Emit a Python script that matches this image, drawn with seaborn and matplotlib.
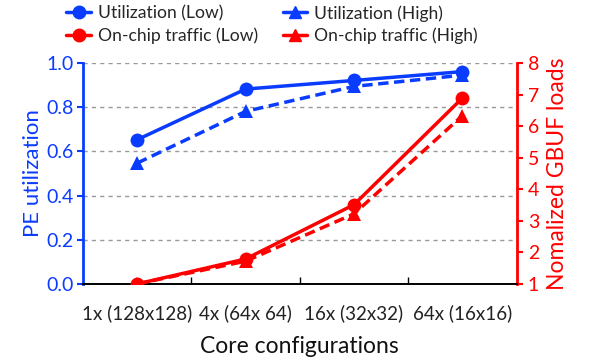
import matplotlib
matplotlib.use("Agg")
import matplotlib.pyplot as plt
import seaborn as sns
import pandas as pd
from matplotlib.lines import Line2D

configs = ["1x (128x128)", "4x (64x 64)", "16x (32x32)", "64x (16x16)"]
util_low = [0.653, 0.882, 0.921, 0.961]
util_high = [0.547, 0.781, 0.894, 0.945]
traffic_low = [1.0, 1.79, 3.51, 6.89]
traffic_high = [1.0, 1.72, 3.22, 6.33]

BLUE = "#0A3CFF"
RED = "#FF0000"

sns.set_style("white")
plt.rcParams["font.family"] = ["Lato", "DejaVu Sans"]

fig = plt.figure(figsize=(5.89, 3.58), dpi=100)
ax = fig.add_axes([0.141, 0.207, 0.736, 0.617])
ax2 = ax.twinx()

xs = list(range(len(configs)))
df = pd.DataFrame({"x": xs, "ul": util_low, "uh": util_high,
                   "tl": traffic_low, "th": traffic_high})

sns.lineplot(data=df, x="x", y="ul", ax=ax, color=BLUE, lw=2.5, marker="o",
             markersize=10, markeredgewidth=0, zorder=5)
sns.lineplot(data=df, x="x", y="uh", ax=ax, color=BLUE, lw=2.5, marker="^",
             markersize=10, markeredgewidth=0, linestyle="--", zorder=5)
sns.lineplot(data=df, x="x", y="tl", ax=ax2, color=RED, lw=2.5, marker="o",
             markersize=10, markeredgewidth=0, zorder=5)
sns.lineplot(data=df, x="x", y="th", ax=ax2, color=RED, lw=2.5, marker="^",
             markersize=10, markeredgewidth=0, linestyle="--", zorder=5)
for a in (ax, ax2):
    for l in a.lines:
        if l.get_linestyle() == "--":
            l.set_dashes((3, 1.6))

ax.set_xlim(-0.5, 3.5)
ax.set_ylim(0, 1.0)
ax2.set_ylim(1, 8)
ax.set_yticks([0, 0.2, 0.4, 0.6, 0.8, 1.0])
ax.set_yticklabels([f"{v:.1f}" for v in [0, 0.2, 0.4, 0.6, 0.8, 1.0]])
ax2.set_yticks(range(1, 9))

ax.set_xticks([0.5, 1.5, 2.5])
ax.set_xticklabels([])
ax.tick_params(axis="x", direction="in", length=5, width=1, color="black", bottom=True)
for i, c in enumerate(configs):
    ax.text(i, -0.09, c, transform=ax.get_xaxis_transform(), ha="center", va="top",
            fontsize=13.5, color="#222222")
ax.set_xlabel("Core configurations", fontsize=16.5, labelpad=34, color="#111111")
ax.set_ylabel("PE utilization", fontsize=16, color=BLUE, labelpad=2)
ax2.set_ylabel("Nomalized GBUF loads", fontsize=16.5, color=RED, labelpad=6)

ax.tick_params(axis="y", colors=BLUE, labelsize=14, length=4, width=1.5, left=True,
               direction="out", pad=3)
ax2.tick_params(axis="y", colors=RED, labelsize=14, length=4, width=1.5, right=True,
                direction="out", pad=4)

ax.yaxis.grid(True, linestyle=(0, (3, 3)), color="#999999", lw=1)
ax.set_axisbelow(True)

for a in (ax, ax2):
    a.spines["top"].set_visible(False)
    a.spines["bottom"].set_color("black")
    a.spines["bottom"].set_linewidth(1.2)
ax.spines["left"].set_color(BLUE)
ax.spines["left"].set_linewidth(2)
ax.spines["right"].set_visible(False)
ax2.spines["left"].set_visible(False)
ax2.spines["right"].set_color(RED)
ax2.spines["right"].set_linewidth(2)

handles = [
    Line2D([], [], color=BLUE, marker="o", lw=2.5, markersize=9),
    Line2D([], [], color=RED, marker="o", lw=2.5, markersize=9),
    Line2D([], [], color=BLUE, marker="^", lw=2.5, markersize=9),
    Line2D([], [], color=RED, marker="^", lw=2.5, markersize=9),
]
labels = ["Utilization (Low)", "On-chip traffic (Low)",
          "Utilization (High)", "On-chip traffic (High)"]
fig.legend(handles, labels, ncol=2, loc="upper center", bbox_to_anchor=(0.462, 1.03),
           frameon=False, fontsize=12.6, handlelength=1.4, handletextpad=0.4,
           columnspacing=1.4, labelspacing=0.32)

fig.savefig("out.png", dpi=100)
